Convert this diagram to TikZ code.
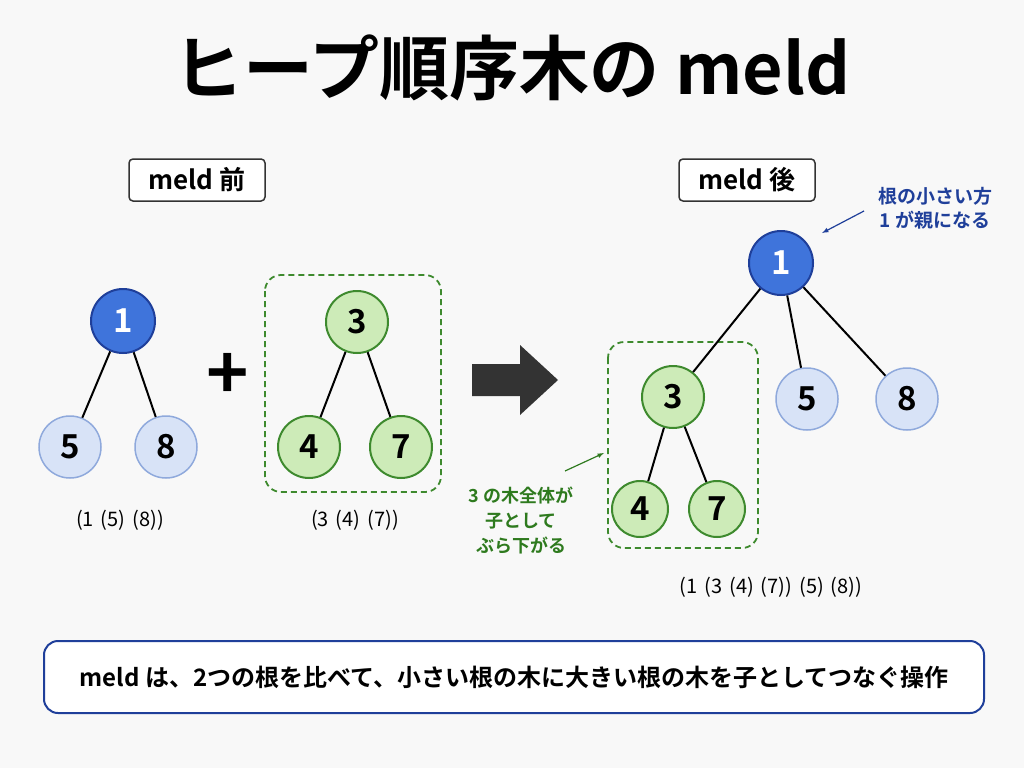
\documentclass[tikz,border=0pt]{standalone}
\usepackage{fontspec}
\setmainfont{Noto Sans CJK JP}[BoldFont={* Bold}]
\definecolor{bg}{HTML}{F8F8F8}
\definecolor{rootb}{HTML}{3F74DB}
\definecolor{rootbd}{HTML}{1F3F9A}
\definecolor{lb}{HTML}{D8E3F7}
\definecolor{lbd}{HTML}{8FA9DC}
\definecolor{gf}{HTML}{CDEBB8}
\definecolor{gd}{HTML}{3E8A2E}
\definecolor{ann}{HTML}{1F3F9A}
\definecolor{gann}{HTML}{2E7A1E}
\newcommand{\sq}{\hspace{7pt}}
\begin{document}
\begin{tikzpicture}[x=1pt,y=-1pt,
  root/.style={circle,minimum size=64pt,inner sep=0,fill=rootb,draw=rootbd,line width=2pt,text=white,font=\bfseries\fontsize{33}{33}\selectfont},
  leaf/.style={circle,minimum size=62pt,inner sep=0,fill=lb,draw=lbd,line width=1.5pt,font=\bfseries\fontsize{33}{33}\selectfont},
  gn/.style={circle,minimum size=62pt,inner sep=0,fill=gf,draw=gd,line width=2pt,font=\bfseries\fontsize{33}{33}\selectfont},
  edge/.style={line width=2pt,black},
  lbl/.style={draw=black!80,line width=1.5pt,rounded corners=4pt,fill=white,minimum width=136pt,minimum height=42pt,font=\bfseries\fontsize{26}{26}\selectfont},
  gbox/.style={draw=gd,dash pattern=on 6pt off 4pt,line width=1.8pt,rounded corners=16pt},
  seq/.style={font=\fontsize{20}{20}\selectfont},
]
\fill[bg] (0,0) rectangle (1024,768);
\node (title) at (512,68) {\bfseries\fontsize{70}{70}\selectfont ヒープ順序木の meld};
\node[lbl] (before) at (197,180) {meld 前};
\node[lbl] (after) at (747,180) {meld 後};
% left tree
\node[root] (a1) at (123,321) {1};
\node[leaf] (a5) at (70,447) {5};
\node[leaf] (a8) at (166,447) {8};
\draw[edge] (a1) -- (a5); \draw[edge] (a1) -- (a8);
\node (plus) at (228,376) {\bfseries\fontsize{72}{72}\selectfont +};
\draw[gbox] (265,275) rectangle (441,492);
\node[gn] (b3) at (357,322) {3};
\node[gn] (b4) at (309,447) {4};
\node[gn] (b7) at (401,447) {7};
\draw[edge] (b3) -- (b4); \draw[edge] (b3) -- (b7);
\coordinate (arr) at (515,380);
\fill[black!80] (472,364) -- (520,364) -- (520,345) -- (558,380) -- (520,415) -- (520,396) -- (472,396) -- cycle;
\node[seq] (s1) at (120,520) {(1\sq(5)\sq(8))};
\node[seq] (s2) at (355,520) {(3\sq(4)\sq(7))};
% right tree
\draw[gbox] (608,342) rectangle (758,548);
\node[root] (c1) at (781,263) {1};
\node[gn] (c3) at (673,397) {3};
\node[leaf] (c5) at (807,399) {5};
\node[leaf] (c8) at (907,399) {8};
\node[gn,minimum size=56pt] (c4) at (640,509) {4};
\node[gn,minimum size=56pt] (c7) at (717,509) {7};
\draw[edge] (c1) -- (c3); \draw[edge] (c1) -- (c5); \draw[edge] (c1) -- (c8);
\draw[edge] (c3) -- (c4); \draw[edge] (c3) -- (c7);
\node[seq] (s3) at (771,587) {(1\sq(3\sq(4)\sq(7))\sq(5)\sq(8))};
% annotations
\node[text=ann,align=center,font=\bfseries\fontsize{19}{24}\selectfont] (n1) at (935,208) {根の小さい方\\1 が親になる};
\coordinate (n1s) at (864,211);
\draw[ann,line width=1.2pt,-latex] (n1s) -- (822,233);
\node[text=gann,align=center,font=\bfseries\fontsize{18}{25}\selectfont] (n2) at (521,520) {3 の木全体が\\子として\\ぶら下がる};
\coordinate (n2s) at (565,471);
\coordinate (n2e) at (604,453);
\draw[gann,line width=1.2pt,-latex] (n2s) -- (n2e);
\node[draw=rootbd,line width=2pt,rounded corners=14pt,fill=white,minimum width=940pt,minimum height=72pt,font=\bfseries\fontsize{24}{24}\selectfont] (sum) at (514,677) {meld は、2つの根を比べて、小さい根の木に大きい根の木を子としてつなぐ操作};
\end{tikzpicture}
\end{document}
